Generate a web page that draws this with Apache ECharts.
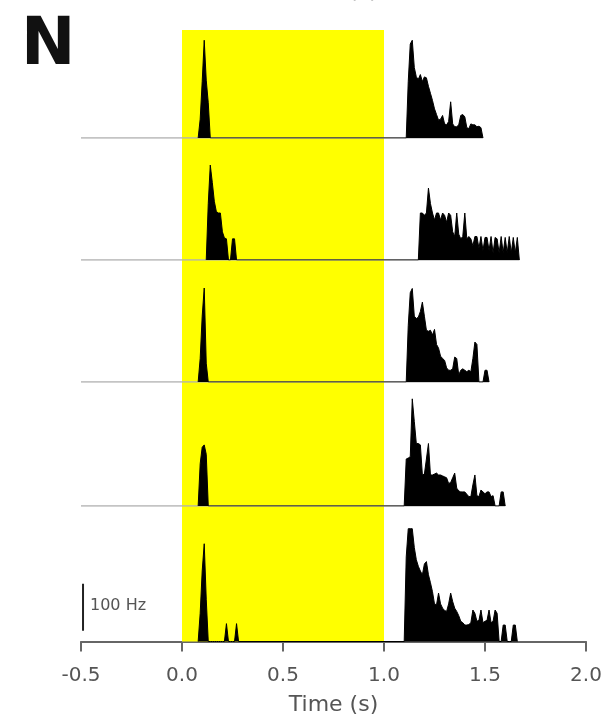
<!DOCTYPE html>
<html><head><meta charset="utf-8">
<script src="https://cdn.jsdelivr.net/npm/echarts@6.0.0/dist/echarts.min.js"></script>
<style>html,body{margin:0;padding:0;background:#fff}#c{width:607px;height:719px}</style>
</head><body><div id="c"></div>
<script>
// ---- data (Hz), bins of 0.01 s ----
const binWidth = 0.01;
const xMin = -0.5, xMax = 2.0, xInterval = 0.5;
const stimStart = 0.0, stimEnd = 1.0;
const scaleBarHz = 100;
const xTitle = 'Time (s)';
const scaleLabel = '100 Hz';
const panelLetter = 'N';

const p1OnStart = 0.08;
const p1On = [0, 40, 120, 208, 123, 75, 0];
const p1OffStart = 1.11;
const p1Off = [0, 120, 200, 208, 150, 130, 125, 135, 120, 130, 128, 110, 95, 80, 62, 50, 38, 40, 48, 30,
  28, 35, 77, 30, 24, 24, 28, 48, 50, 45, 22, 20, 30, 28, 28, 24, 25, 22, 0];

const p2OnStart = 0.12;
const p2On = [0, 120, 202, 165, 125, 103, 100, 100, 60, 47, 45, 0, 0, 45, 45, 0];
const p2OffStart = 1.17;
const p2Off = [0, 100, 100, 95, 100, 153, 120, 100, 85, 100, 100, 85, 100, 95, 80, 100, 95, 60, 50, 100,
  55, 45, 50, 100, 45, 50, 45, 30, 50, 50, 25, 50, 20, 48, 48, 20, 50, 15, 48, 45,
  15, 50, 15, 48, 15, 50, 15, 48, 15, 48, 0];

const p3OnStart = 0.08;
const p3On = [0, 50, 140, 200, 40, 0];
const p3OffStart = 1.11;
const p3Off = [0, 120, 190, 199, 140, 135, 138, 150, 170, 140, 110, 108, 110, 100, 112, 80, 72, 55, 50, 46,
  30, 25, 25, 28, 53, 50, 15, 25, 28, 25, 22, 25, 22, 50, 85, 80, 0, 0, 0, 25, 25, 0];

const p4OnStart = 0.08;
const p4On = [0, 90, 125, 130, 110, 0];
const p4OffStart = 1.10;
const p4Off = [0, 100, 102, 105, 228, 180, 133, 133, 130, 66, 68, 100, 133, 66, 66, 68, 70, 66, 66, 64,
  62, 60, 48, 50, 60, 70, 38, 32, 30, 30, 30, 25, 20, 20, 45, 66, 22, 20, 34, 30,
  26, 30, 30, 20, 22, 0, 0, 0, 30, 30, 0];

const p5OnStart = 0.08;
const p5On = [0, 60, 150, 208, 90, 0, 0, 0, 0, 0, 0, 0, 0, 0, 38, 0, 0, 0, 0, 38, 0];
const p5OffStart = 1.10;
const p5Off = [0, 180, 240, 240, 240, 200, 174, 160, 150, 142, 165, 170, 142, 125, 106, 80, 78, 103, 80, 71,
  66, 64, 80, 103, 85, 71, 64, 55, 43, 40, 35, 35, 36, 40, 67, 60, 43, 45, 67, 40,
  43, 45, 67, 40, 43, 67, 60, 0, 0, 35, 35, 0, 0, 0, 35, 35, 0];

const panels = [
  [p1OnStart, p1On, p1OffStart, p1Off],
  [p2OnStart, p2On, p2OffStart, p2Off],
  [p3OnStart, p3On, p3OffStart, p3Off],
  [p4OnStart, p4On, p4OffStart, p4Off],
  [p5OnStart, p5On, p5OffStart, p5Off]
];

// ---- layout ----
const gridLeft = 81, gridRight = 21;
const yMaxHz = 250, pxPer100 = 47;
const panelH = yMaxHz / 100 * pxPer100;
const baselines = [138, 260, 382, 506, 641.5];

function seg(start, vals) {
  return vals.map((v, i) => [+(start + i * binWidth).toFixed(3), v]);
}

const grids = [], xAxes = [], yAxes = [], series = [];
// background grid for stimulus window
grids.push({left: gridLeft, right: gridRight, top: 30, height: baselines[4] - 30});
xAxes.push({gridIndex: 0, type: 'value', min: xMin, max: xMax, show: false});
yAxes.push({gridIndex: 0, type: 'value', min: 0, max: 1, show: false});
series.push({
  type: 'line', xAxisIndex: 0, yAxisIndex: 0, data: [], z: 0, silent: true,
  markArea: {silent: true, itemStyle: {color: '#ffff00', opacity: 1},
    data: [[{xAxis: stimStart}, {xAxis: stimEnd}]]}
});

panels.forEach((p, i) => {
  const gi = i + 1;
  const last = i === panels.length - 1;
  grids.push({left: gridLeft, right: gridRight, top: baselines[i] - panelH, height: panelH});
  xAxes.push({
    gridIndex: gi, type: 'value', min: xMin, max: xMax, interval: xInterval,
    show: last,
    axisLine: {lineStyle: {color: '#666', width: 2}},
    axisTick: {show: true, length: 10, lineStyle: {color: '#666', width: 2}},
    axisLabel: {show: true, margin: 24, color: '#555', fontSize: 20, fontFamily: 'DejaVu Sans',
      formatter: v => v.toFixed(1)},
    splitLine: {show: false},
    name: last ? xTitle : '', nameLocation: 'middle', nameGap: 53,
    nameTextStyle: {color: '#555', fontSize: 22, fontFamily: 'DejaVu Sans'}
  });
  yAxes.push({gridIndex: gi, type: 'value', min: 0, max: yMaxHz, show: false});
  const data = seg(p[0], p[1]).concat(seg(p[2], p[3]));
  const lastT = data[data.length - 1][0];
  if (!last) {
    series.push({
      type: 'line', xAxisIndex: gi, yAxisIndex: gi, z: 2, symbol: 'none', silent: true,
      data: [[xMin, 0], [lastT, 0]],
      lineStyle: {color: '#b0b0b0', width: 1.5}
    });
  }
  series.push({
    type: 'line', xAxisIndex: gi, yAxisIndex: gi, z: 3, symbol: 'none', silent: true,
    data: data,
    lineStyle: {color: '#000', width: 1},
    areaStyle: {color: '#000', opacity: 1}
  });
  if (last) {
    // scale bar: 100 Hz
    series.push({
      type: 'line', xAxisIndex: gi, yAxisIndex: gi, z: 3, symbol: 'none', silent: true,
      data: [[-0.49, 23], [-0.49, 23 + scaleBarHz]],
      lineStyle: {color: '#222', width: 2}
    });
  }
});

const chart = echarts.init(document.getElementById('c'), null, {renderer: 'canvas'});
chart.setOption({
  animation: false,
  backgroundColor: '#fff',
  grid: grids, xAxis: xAxes, yAxis: yAxes, series: series,
  graphic: [
    {type: 'text', left: 21, top: 15, style: {text: panelLetter, font: 'bold 65px "DejaVu Sans"', fill: '#111'}},
    {type: 'text', left: 90, top: 598, style: {text: scaleLabel, font: '16px "DejaVu Sans"', fill: '#555'}},
    {type: 'text', x: 333, y: 3, style: {text: xTitle, font: '22px "DejaVu Sans"', fill: '#c4c4c4', align: 'center', verticalAlign: 'bottom'}}
  ]
});
</script></body></html>
